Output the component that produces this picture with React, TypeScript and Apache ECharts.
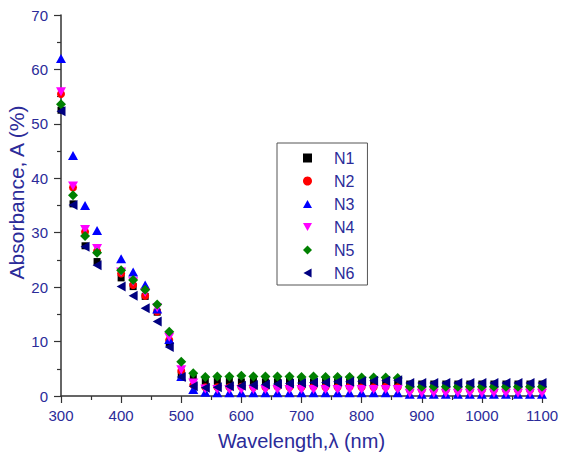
import React, { useEffect, useRef } from "react";
import * as echarts from "echarts";

const wavelengths = [
  300, 320, 340, 360, 400, 420, 440, 460, 480, 500, 520,
  540, 560, 580, 600, 620, 640, 660, 680, 700, 720, 740, 760, 780, 800, 820, 840, 860,
  880, 900, 920, 940, 960, 980, 1000, 1020, 1040, 1060, 1080, 1100,
];

const n1 = [
  52.5, 35.3, 27.6, 24.7, 21.7, 20.1, 18.3, 15.4, 9.8, 3.8, 3.3,
  2.7, 2.7, 2.7, 2.6, 2.7, 2.6, 2.6, 2.7, 2.6, 2.6, 2.7, 2.6, 2.6, 2.7, 2.6, 2.6, 2.6,
  2.2, 2.2, 2.2, 2.2, 2.2, 2.2, 2.2, 2.2, 2.2, 2.2, 2.2, 2.2,
];
const n2 = [
  55.5, 38.3, 30.2, 26.6, 22.5, 20.4, 18.4, 15.5, 10.3, 4.6, 2.0,
  1.6, 1.6, 1.6, 1.7, 1.6, 1.6, 1.7, 1.6, 1.6, 1.7, 1.6, 1.6, 1.7, 1.6, 1.6, 1.7, 1.6,
  1.1, 1.1, 1.1, 1.1, 1.1, 1.1, 1.1, 1.1, 1.1, 1.1, 1.1, 1.1,
];
const n3 = [
  62.0, 44.2, 35.0, 30.4, 25.2, 22.8, 20.4, 16.0, 10.4, 3.6, 1.2,
  0.7, 0.6, 0.6, 0.6, 0.6, 0.6, 0.6, 0.6, 0.6, 0.6, 0.6, 0.6, 0.6, 0.6, 0.6, 0.6, 0.6,
  0.3, 0.3, 0.3, 0.3, 0.3, 0.3, 0.3, 0.3, 0.3, 0.3, 0.3, 0.3,
];
const n4 = [
  55.9, 38.6, 30.6, 27.1, 22.8, 21.0, 19.0, 16.2, 10.8, 4.8, 2.4,
  1.3, 1.2, 1.2, 1.2, 1.2, 1.2, 1.2, 1.2, 1.2, 1.2, 1.2, 1.2, 1.2, 1.2, 1.2, 1.2, 1.2,
  0.5, 0.5, 0.5, 0.5, 0.5, 0.5, 0.5, 0.5, 0.5, 0.5, 0.5, 0.5,
];
const n5 = [
  53.6, 36.9, 29.4, 26.3, 23.1, 21.3, 19.5, 16.8, 11.8, 6.3, 4.2,
  3.5, 3.6, 3.6, 3.7, 3.6, 3.6, 3.6, 3.6, 3.5, 3.6, 3.5, 3.5, 3.5, 3.4, 3.4, 3.4, 3.3,
  1.7, 1.7, 1.7, 1.7, 1.7, 1.7, 1.7, 1.7, 1.7, 1.7, 1.7, 1.7,
];
const n6 = [
  52.3, 35.1, 27.4, 24.0, 20.1, 18.4, 16.1, 13.7, 9.0, 3.5, 1.8,
  1.5, 1.6, 1.8, 1.9, 2.0, 2.1, 2.2, 2.3, 2.4, 2.5, 2.5, 2.6, 2.6, 2.7, 2.8, 2.8, 2.9,
  2.4, 2.4, 2.4, 2.4, 2.4, 2.4, 2.4, 2.4, 2.4, 2.4, 2.4, 2.4,
];

const seriesNames = ["N1", "N2", "N3", "N4", "N5", "N6"];
const seriesValues = [n1, n2, n3, n4, n5, n6];
const colors = ["#000000", "#ff0000", "#0000ff", "#ff00ff", "#008000", "#000080"];
const symbols = [
  "rect",
  "circle",
  "path://M5,0 L10,9 L0,9 Z",
  "path://M0,0 L10,0 L5,9 Z",
  "diamond",
  "path://M9,0 L9,10 L0,5 Z",
];
const symbolSizes: any[] = [7, 8, [10, 9], [10, 9], 10, [9, 10]];

const textColor = "#2b2b99";
const axisColor = "#333333";

export default function App() {
  const ref = useRef<HTMLDivElement>(null);
  useEffect(() => {
    if (!ref.current) return;
    const chart = echarts.init(ref.current, undefined, { renderer: "svg" });
    const font = "Liberation Sans, Arial, sans-serif";
    chart.setOption({
      animation: false,
      backgroundColor: "#ffffff",
      grid: {
        left: 61,
        right: 19,
        top: 15,
        bottom: 64,
        containLabel: false,
        outerBoundsMode: "none",
      },
      legend: {
        orient: "vertical",
        left: 277,
        top: 143,
        data: seriesNames,
        itemWidth: 9,
        itemHeight: 9,
        itemGap: 7,
        padding: [7, 13, 4, 26],
        borderColor: "#555555",
        borderWidth: 1,
        textStyle: {
          color: textColor,
          fontFamily: font,
          fontSize: 16,
          lineHeight: 16,
          padding: [0, 0, 0, 17],
        },
      },
      xAxis: {
        type: "value",
        min: 300,
        max: 1100,
        interval: 100,
        name: "Wavelength,λ (nm)",
        nameLocation: "middle",
        nameGap: 35,
        nameTextStyle: { color: textColor, fontFamily: font, fontSize: 20 },
        axisLine: { show: true, lineStyle: { color: axisColor, width: 1.5 } },
        axisTick: { show: true, inside: false, length: 7, lineStyle: { color: axisColor, width: 1.2 } },
        minorTick: { show: true, splitNumber: 2, length: 4, lineStyle: { color: axisColor, width: 1.2 } },
        splitLine: { show: false },
        axisLabel: {
          color: textColor,
          fontFamily: font,
          fontSize: 15,
          margin: 12,
          formatter: (v: number) => String(v),
        },
      },
      yAxis: {
        type: "value",
        min: 0,
        max: 70,
        interval: 10,
        name: "Absorbance, A (%)",
        nameLocation: "middle",
        nameGap: 34,
        nameRotate: 90,
        nameMoveOverlap: false,
        nameTextStyle: {
          color: textColor,
          fontFamily: font,
          fontSize: 21,
          padding: [0, 0, 0, 26],
        },
        axisLine: { show: true, lineStyle: { color: axisColor, width: 1.5 } },
        axisTick: { show: true, inside: false, length: 7, lineStyle: { color: axisColor, width: 1.2 } },
        minorTick: { show: true, splitNumber: 2, length: 4, lineStyle: { color: axisColor, width: 1.2 } },
        splitLine: { show: false },
        axisLabel: {
          color: textColor,
          fontFamily: font,
          fontSize: 15,
          margin: 13,
          formatter: (v: number) => String(v),
        },
      },
      series: seriesNames.map((name, i) => ({
        name,
        type: "scatter",
        symbol: symbols[i],
        symbolSize: symbolSizes[i],
        itemStyle: { color: colors[i], opacity: 1 },
        data: wavelengths.map((w, j) => [w, seriesValues[i][j]]),
        z: 2 + i,
      })),
    });
    return () => chart.dispose();
  }, []);
  return (
    <div
      ref={ref}
      style={{ position: "fixed", left: 0, top: 0, width: 561, height: 460, background: "#fff" }}
    />
  );
}
